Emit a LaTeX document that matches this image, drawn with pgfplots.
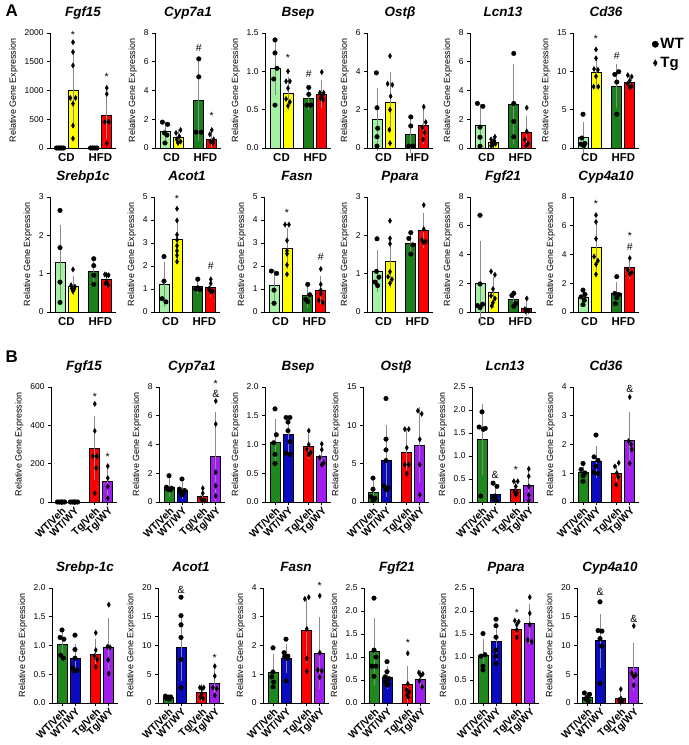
\documentclass[border=0pt]{standalone}
\usepackage{fontspec}
\setmainfont{Liberation Sans}
\usepackage{pgfplots}
\pgfplotsset{compat=1.18}

\definecolor{cdwt}{HTML}{A3F2A3}
\definecolor{cdtg}{HTML}{FFFF00}
\definecolor{hfdwt}{HTML}{1B7F1B}
\definecolor{hfdtg}{HTML}{FF0000}
\definecolor{vehwt}{HTML}{1E8A1E}
\definecolor{wywt}{HTML}{0A0ABF}
\definecolor{vehtg}{HTML}{FF0000}
\definecolor{wytg}{HTML}{A01EF0}
\definecolor{errgray}{HTML}{8A8A8A}

\pgfplotsset{
  gene/.style={
    scale only axis, width=66bp, height=115bp, anchor=south west,
    xmin=-0.77, xmax=4.31, ymin=0,
    axis x line=bottom, axis y line=left,
    axis line style={-, line width=0.8pt, black},
    every outer x axis line/.append style={-},
    every outer y axis line/.append style={-},
    tick align=outside, major tick length=3bp,
    ytick style={line width=0.8pt, black},
    yticklabel style={font=\fontsize{8.5}{9}\selectfont, text=black,
      /pgf/number format/fixed, /pgf/number format/1000 sep={}},
    /pgf/number format/assume math mode=true,
    scaled y ticks=false,
    ylabel={Relative Gene Expression},
    ylabel style={font=\fontsize{9}{10}\selectfont},
    title style={at={(0.5,1)}, anchor=base, yshift=11bp,
      font=\fontsize{13.5}{14}\selectfont\bfseries\itshape},
    clip=false,
  },
  geneA/.style={gene, xtick={0.5,3.1}, xticklabels={CD,HFD},
    xtick style={draw=none},
    xticklabel style={font=\fontsize{11.5}{12}\selectfont\bfseries, yshift=1bp}},
  geneB/.style={gene, xtick={0,1,2.6,3.6},
    xticklabels={WT/Veh,WT/WY,Tg/Veh,Tg/WY},
    xtick style={line width=0.8pt, black},
    xticklabel style={rotate=45, anchor=north east, inner sep=1pt,
      font=\fontsize{10.5}{11}\selectfont\bfseries}},
  dec/.style={yticklabel style={/pgf/number format/fixed zerofill,
      /pgf/number format/precision=1}},
  bar/.style={ybar, bar width=10bp, bar shift=0pt, draw=black,
    line width=0.8pt, fill=#1, forget plot},
  err/.style={draw=none, mark=none, forget plot,
    error bars/y dir=both, error bars/y explicit,
    error bars/error bar style={draw=errgray, line width=0.6pt, solid},
    error bars/error mark options={draw=errgray, line width=0.6pt, mark size=2.6bp}},
  wt/.style={only marks, mark=*, mark size=2.3bp, draw=black, fill=black},
  tg/.style={only marks, mark=diamond*, mark size=2.6bp, draw=black, fill=black,
    mark options={xscale=0.8}},
}
\tikzset{sig/.style={font=\fontsize{10.5}{11}\selectfont, inner sep=0pt}}

\begin{document}
\begin{tikzpicture}
\path[use as bounding box] (0,0) rectangle (689bp,-745bp);
\node[anchor=base west, font=\fontsize{17}{17}\selectfont\bfseries] at (2bp,-16bp) {A};
\node[anchor=base west, font=\fontsize{17}{17}\selectfont\bfseries] at (2bp,-362bp) {B};

% ---------------- Panel A, top row ----------------
\begin{axis}[geneA, at={(50bp,-148bp)}, ymax=2000, ytick={0,500,1000,1500,2000}, title={Fgf15}]
\addplot[bar=cdwt] coordinates {(0,6)};
\addplot[bar=cdtg] coordinates {(1,1000)};
\addplot[bar=hfdwt] coordinates {(2.6,6)};
\addplot[bar=hfdtg] coordinates {(3.6,575)};
\addplot[err] coordinates {(0,6) +- (0,3) (1,1000) +- (0,600) (2.6,6) +- (0,3) (3.6,575) +- (0,365)};
\addplot[wt] coordinates {(-0.28,0) (-0.14,0) (0,0) (0.14,0) (0.28,0) (2.35,0) (2.5,0) (2.7,0) (2.85,0)};
\addplot[tg] coordinates {(1,1840) (1,1670) (1,1435) (0.8,870) (1.2,870) (1,770) (1,390) (1,165) (3.6,1045) (3.6,940) (3.45,455) (3.75,455) (3.6,80)};
\node[sig] at (axis cs:1,1960) {*};
\node[sig] at (axis cs:3.6,1230) {*};
\end{axis}

\begin{axis}[geneA, at={(155bp,-148bp)}, ymax=8, ytick={0,2,4,6,8}, title={Cyp7a1}]
\addplot[bar=cdwt] coordinates {(0,1.13)};
\addplot[bar=cdtg] coordinates {(1,0.75)};
\addplot[bar=hfdwt] coordinates {(2.6,3.3)};
\addplot[bar=hfdtg] coordinates {(3.6,0.63)};
\addplot[err] coordinates {(0,1.13) +- (0,0.52) (1,0.75) +- (0,0.38) (2.6,3.3) +- (0,2.65) (3.6,0.63) +- (0,0.35)};
\addplot[wt] coordinates {(-0.2,1.8) (0.2,1.65) (-0.05,1.05) (0.15,0.9) (0,0.35) (2.6,6.2) (2.6,4.95) (2.4,1.1) (2.8,1.1)};
\addplot[tg] coordinates {(1.2,1.25) (0.85,1.05) (1.1,0.8) (0.9,0.6) (1.2,0.45) (1,0.35) (3.6,1.25) (3.45,0.95) (3.75,0.6) (3.5,0.45) (3.7,0.35)};
\node[sig] at (axis cs:2.6,6.95) {\#};
\node[sig] at (axis cs:3.6,2.2) {*};
\end{axis}

\begin{axis}[geneA, dec, at={(265bp,-148bp)}, ymax=1.5, ytick={0,0.5,1,1.5}, title={Bsep}]
\addplot[bar=cdwt] coordinates {(0,1.04)};
\addplot[bar=cdtg] coordinates {(1,0.71)};
\addplot[bar=hfdwt] coordinates {(2.6,0.65)};
\addplot[bar=hfdtg] coordinates {(3.6,0.70)};
\addplot[err] coordinates {(0,1.04) +- (0,0.32) (1,0.71) +- (0,0.18) (2.6,0.65) +- (0,0.12) (3.6,0.70) +- (0,0.15)};
\addplot[wt] coordinates {(0,1.41) (0,1.24) (0.15,1.04) (-0.1,0.9) (0,0.56) (2.6,0.79) (2.6,0.70) (2.45,0.56) (2.75,0.56)};
\addplot[tg] coordinates {(1,1.0) (0.85,0.87) (1.15,0.87) (1,0.78) (0.85,0.64) (1.15,0.6) (1,0.55) (3.6,0.99) (3.45,0.72) (3.75,0.72) (3.5,0.65) (3.7,0.63) (3.6,0.68)};
\node[sig] at (axis cs:1,1.17) {*};
\node[sig] at (axis cs:2.6,0.96) {\#};
\end{axis}

\begin{axis}[geneA, at={(367bp,-148bp)}, ymax=6, ytick={0,2,4,6}, title={Ostβ}]
\addplot[bar=cdwt] coordinates {(0,1.5)};
\addplot[bar=cdtg] coordinates {(1,2.4)};
\addplot[bar=hfdwt] coordinates {(2.6,0.73)};
\addplot[bar=hfdtg] coordinates {(3.6,1.17)};
\addplot[err] coordinates {(0,1.5) +- (0,1.52) (1,2.4) +- (0,1.45) (2.6,0.73) +- (0,0.83) (3.6,1.17) +- (0,0.8)};
\addplot[wt] coordinates {(-0.05,3.92) (0,2.1) (0.05,1.03) (0,0.59) (0,0.1) (2.6,1.62) (2.6,1.15) (2.45,0.1) (2.75,0.1)};
\addplot[tg] coordinates {(1,4.8) (0.82,3.35) (1.18,3.3) (1.05,2.7) (1,2.0) (0.95,0.95) (1,0.25) (3.6,2.15) (3.75,1.35) (3.5,1.07) (3.65,0.8) (3.55,0.45)};
\end{axis}

\begin{axis}[geneA, at={(470bp,-148bp)}, ymax=8, ytick={0,2,4,6,8}, title={Lcn13}]
\addplot[bar=cdwt] coordinates {(0,1.55)};
\addplot[bar=cdtg] coordinates {(1,0.42)};
\addplot[bar=hfdwt] coordinates {(2.6,3.05)};
\addplot[bar=hfdtg] coordinates {(3.6,1.1)};
\addplot[err] coordinates {(0,1.55) +- (0,1.35) (1,0.42) +- (0,0.25) (2.6,3.05) +- (0,2.58) (3.6,1.1) +- (0,0.98)};
\addplot[wt] coordinates {(-0.2,3.1) (0.22,2.9) (0,1.45) (0,0.75) (0,0.12) (2.6,6.58) (2.6,3.1) (2.6,1.85) (2.6,0.78)};
\addplot[tg] coordinates {(1.15,0.78) (0.85,0.6) (1.1,0.5) (0.9,0.38) (1.2,0.3) (1,0.2) (0.85,0.15) (3.6,2.8) (3.6,1.15) (3.45,0.6) (3.7,0.3) (3.55,0.15)};
\end{axis}

\begin{axis}[geneA, at={(573bp,-148bp)}, ymax=15, ytick={0,5,10,15}, title={Cd36},
  legend style={at={(1.15,0.99)}, anchor=north west, draw=none, fill=none,
    font=\fontsize{15}{16}\selectfont\bfseries, row sep=3bp},
  legend cell align=left, legend image post style={mark size=3.2bp}]
\addplot[bar=cdwt] coordinates {(0,1.4)};
\addplot[bar=cdtg] coordinates {(1,9.85)};
\addplot[bar=hfdwt] coordinates {(2.6,8.1)};
\addplot[bar=hfdtg] coordinates {(3.6,8.55)};
\addplot[err] coordinates {(0,1.4) +- (0,1.7) (1,9.85) +- (0,1.85) (2.6,8.1) +- (0,2.55) (3.6,8.55) +- (0,0.6)};
\addplot[wt] coordinates {(0,4.4) (-0.1,1.3) (0.15,0.6) (-0.15,0.5) (0.05,0.3) (2.45,9.6) (2.75,9.95) (2.6,8.6) (2.6,4.4)};
\addlegendentry{WT}
\addplot[tg] coordinates {(1,12.85) (1,11.7) (0.85,10.3) (1.15,10.2) (1,9.35) (0.82,8.0) (1.18,8.0) (3.45,9.5) (3.75,9.3) (3.6,8.8) (3.45,8.4) (3.75,8.1) (3.6,7.9)};
\addlegendentry{Tg}
\node[sig] at (axis cs:1,14.2) {*};
\node[sig] at (axis cs:2.6,12.05) {\#};
\end{axis}

% ---------------- Panel A, bottom row ----------------
\begin{axis}[geneA, at={(50bp,-312bp)}, ymax=3, ytick={0,1,2,3}, title={Srebp1c}]
\addplot[bar=cdwt] coordinates {(0,1.29)};
\addplot[bar=cdtg] coordinates {(1,0.68)};
\addplot[bar=hfdwt] coordinates {(2.6,1.05)};
\addplot[bar=hfdtg] coordinates {(3.6,0.84)};
\addplot[err] coordinates {(0,1.29) +- (0,0.92) (1,0.68) +- (0,0.18) (2.6,1.05) +- (0,0.22) (3.6,0.84) +- (0,0.13)};
\addplot[wt] coordinates {(0,2.65) (0,1.68) (0,0.78) (0,0.25) (2.6,1.39) (2.6,1.21) (2.6,0.96) (2.6,0.72)};
\addplot[tg] coordinates {(1,1.11) (0.85,0.7) (1.15,0.66) (0.9,0.61) (1.1,0.6) (1,0.54) (3.45,0.98) (3.6,0.96) (3.75,0.96) (3.5,0.75) (3.7,0.7) (3.6,0.79)};
\end{axis}

\begin{axis}[geneA, at={(154bp,-312bp)}, ymax=5, ytick={0,1,2,3,4,5}, title={Acot1}]
\addplot[bar=cdwt] coordinates {(0,1.2)};
\addplot[bar=cdtg] coordinates {(1,3.17)};
\addplot[bar=hfdwt] coordinates {(2.6,1.1)};
\addplot[bar=hfdtg] coordinates {(3.6,1.05)};
\addplot[err] coordinates {(0,1.2) +- (0,0.88) (1,3.17) +- (0,0.78) (2.6,1.1) +- (0,0.2) (3.6,1.05) +- (0,0.3)};
\addplot[wt] coordinates {(0,2.41) (0,1.34) (-0.15,0.58) (0.15,0.44) (2.6,1.43) (2.45,1.0) (2.75,0.98) (2.6,1.05)};
\addplot[tg] coordinates {(1,4.49) (1,3.98) (1,3.36) (1,3.14) (1,2.88) (1,2.66) (1,2.46) (1,2.19) (3.6,1.42) (3.6,1.24) (3.45,0.99) (3.75,0.9) (3.6,0.88) (3.5,1.02)};
\node[sig] at (axis cs:1,4.9) {*};
\node[sig] at (axis cs:3.6,2.02) {\#};
\end{axis}

\begin{axis}[geneA, at={(264bp,-312bp)}, ymax=5, ytick={0,1,2,3,4,5}, title={Fasn}]
\addplot[bar=cdwt] coordinates {(0,1.14)};
\addplot[bar=cdtg] coordinates {(1,2.76)};
\addplot[bar=hfdwt] coordinates {(2.6,0.73)};
\addplot[bar=hfdtg] coordinates {(3.6,0.95)};
\addplot[err] coordinates {(0,1.14) +- (0,0.57) (1,2.76) +- (0,0.79) (2.6,0.73) +- (0,0.44) (3.6,0.95) +- (0,0.51)};
\addplot[wt] coordinates {(-0.2,1.78) (0.2,1.68) (0,0.95) (0,0.38) (2.6,1.2) (2.75,0.75) (2.45,0.55) (2.6,0.45)};
\addplot[tg] coordinates {(0.85,3.8) (1.15,3.8) (1,3.11) (1,2.66) (1,2.53) (1,2.05) (1,1.64) (3.6,1.87) (3.6,1.2) (3.6,0.95) (3.45,0.51) (3.75,0.41) (3.6,0.8)};
\node[sig] at (axis cs:1,4.31) {*};
\node[sig] at (axis cs:3.6,2.41) {\#};
\end{axis}

\begin{axis}[geneA, at={(367bp,-312bp)}, ymax=3, ytick={0,1,2,3}, title={Ppara}]
\addplot[bar=cdwt] coordinates {(0,1.07)};
\addplot[bar=cdtg] coordinates {(1,1.31)};
\addplot[bar=hfdwt] coordinates {(2.6,1.8)};
\addplot[bar=hfdtg] coordinates {(3.6,2.13)};
\addplot[err] coordinates {(0,1.07) +- (0,0.47) (1,1.31) +- (0,0.61) (2.6,1.8) +- (0,0.2) (3.6,2.13) +- (0,0.39)};
\addplot[wt] coordinates {(0,1.91) (-0.05,1.06) (0.15,0.91) (-0.15,0.78) (0.05,0.69) (2.6,2.07) (2.45,1.92) (2.75,1.75) (2.6,1.51)};
\addplot[tg] coordinates {(1,2.38) (1,1.92) (1,1.78) (1,1.05) (0.85,0.92) (1.15,0.85) (1,0.75) (3.6,2.79) (3.6,2.16) (3.45,1.88) (3.75,1.84) (3.6,1.82)};
\end{axis}

\begin{axis}[geneA, at={(470bp,-312bp)}, ymax=8, ytick={0,2,4,6,8}, title={Fgf21}]
\addplot[bar=cdwt] coordinates {(0,2.0)};
\addplot[bar=cdtg] coordinates {(1,1.36)};
\addplot[bar=hfdwt] coordinates {(2.6,0.85)};
\addplot[bar=hfdtg] coordinates {(3.6,0.25)};
\addplot[err] coordinates {(0,2.0) +- (0,2.78) (1,1.36) +- (0,0.88) (2.6,0.85) +- (0,0.47) (3.6,0.25) +- (0,0.37)};
\addplot[wt] coordinates {(0,6.73) (0,1.95) (0.2,0.54) (-0.2,0.45) (0,0.3) (2.6,1.3) (2.45,1.15) (2.75,0.6) (2.6,0.4)};
\addplot[tg] coordinates {(0.85,2.82) (1.15,2.59) (1,1.6) (0.85,1.13) (1.15,0.94) (1,0.66) (0.9,0.42) (3.6,0.94) (3.45,0.2) (3.6,0.12) (3.75,0.08) (3.5,0.05)};
\end{axis}

\begin{axis}[geneA, at={(573bp,-312bp)}, ymax=8, ytick={0,2,4,6,8}, title={Cyp4a10}]
\addplot[bar=cdwt] coordinates {(0,1.05)};
\addplot[bar=cdtg] coordinates {(1,4.51)};
\addplot[bar=hfdwt] coordinates {(2.6,1.26)};
\addplot[bar=hfdtg] coordinates {(3.6,3.09)};
\addplot[err] coordinates {(0,1.05) +- (0,0.3) (1,4.51) +- (0,1.45) (2.6,1.26) +- (0,0.66) (3.6,3.09) +- (0,0.6)};
\addplot[wt] coordinates {(0,1.52) (0.15,1.22) (-0.15,1.05) (0.1,0.82) (0,0.51) (2.6,2.46) (2.45,1.29) (2.75,1.22) (2.6,0.98) (2.5,0.58)};
\addplot[tg] coordinates {(1,6.74) (1,6.27) (1,5.1) (0.85,3.86) (1.15,3.56) (1,3.32) (1,2.62) (3.6,3.75) (3.45,2.95) (3.75,2.75) (3.6,2.65)};
\node[sig] at (axis cs:1,7.53) {*};
\node[sig] at (axis cs:3.6,5.26) {*};
\node[sig] at (axis cs:3.6,4.56) {\#};
\end{axis}

% ---------------- Panel B, top row ----------------
\begin{axis}[geneB, at={(51bp,-502bp)}, ymax=600, ytick={0,200,400,600}, title={Fgf15}]
\addplot[bar=vehwt] coordinates {(0,2)};
\addplot[bar=wywt] coordinates {(1,2)};
\addplot[bar=vehtg] coordinates {(2.6,281)};
\addplot[bar=wytg] coordinates {(3.6,107)};
\addplot[err] coordinates {(0,2) +- (0,1) (1,2) +- (0,1) (2.6,281) +- (0,155) (3.6,107) +- (0,80)};
\addplot[wt] coordinates {(-0.28,0) (-0.14,0) (0,0) (0.14,0) (0.28,0) (0.72,0) (0.86,0) (1,0) (1.14,0) (1.28,0)};
\addplot[tg] coordinates {(2.6,512) (2.6,371) (2.45,239) (2.75,239) (2.7,178) (2.6,46) (3.6,187) (3.6,125) (3.6,81) (3.6,19)};
\node[sig] at (axis cs:2.6,547) {*};
\node[sig] at (axis cs:3.6,236) {*};
\end{axis}

\begin{axis}[geneB, at={(159bp,-502bp)}, ymax=8, ytick={0,2,4,6,8}, title={Cyp7a1}]
\addplot[bar=vehwt] coordinates {(0,1.01)};
\addplot[bar=wywt] coordinates {(1,0.8)};
\addplot[bar=vehtg] coordinates {(2.6,0.38)};
\addplot[bar=wytg] coordinates {(3.6,3.15)};
\addplot[err] coordinates {(0,1.01) +- (0,0.47) (1,0.8) +- (0,0.4) (2.6,0.38) +- (0,0.35) (3.6,3.15) +- (0,2.93)};
\addplot[wt] coordinates {(0,1.83) (-0.2,1.03) (0.2,0.96) (-0.1,0.89) (0.1,0.85) (1,1.6) (0.8,0.9) (1.2,0.8) (0.9,0.7) (1.1,0.6) (1,0.5)};
\addplot[tg] coordinates {(2.6,0.96) (2.6,0.61) (2.45,0.26) (2.75,0.09) (2.6,0.09) (3.6,7.02) (3.6,5.42) (3.6,2.07) (3.6,1.13) (3.6,0.42)};
\node[sig] at (axis cs:3.6,8.2) {*};
\node[sig] at (axis cs:3.6,7.5) {\&};
\end{axis}

\begin{axis}[geneB, dec, at={(265bp,-502bp)}, ymax=2, ytick={0,0.5,1,1.5,2}, title={Bsep}]
\addplot[bar=vehwt] coordinates {(0,1.04)};
\addplot[bar=wywt] coordinates {(1,1.18)};
\addplot[bar=vehtg] coordinates {(2.6,0.96)};
\addplot[bar=wytg] coordinates {(3.6,0.8)};
\addplot[err] coordinates {(0,1.04) +- (0,0.36) (1,1.18) +- (0,0.27) (2.6,0.96) +- (0,0.17) (3.6,0.8) +- (0,0.13)};
\addplot[wt] coordinates {(0,1.62) (0.1,1.17) (-0.1,1.03) (0,0.83) (0,0.67) (0.85,1.47) (1.15,1.47) (1,1.39) (1,1.24) (1.15,1.05) (0.85,0.85) (1.15,0.83)};
\addplot[tg] coordinates {(2.6,1.24) (2.6,1.0) (2.45,0.92) (2.75,0.86) (2.6,0.83) (3.6,1.01) (3.6,0.91) (3.45,0.77) (3.75,0.68) (3.6,0.65)};
\end{axis}

\begin{axis}[geneB, at={(363bp,-502bp)}, ymax=15, ytick={0,5,10,15}, title={Ostβ}]
\addplot[bar=vehwt] coordinates {(0,1.28)};
\addplot[bar=wywt] coordinates {(1,5.37)};
\addplot[bar=vehtg] coordinates {(2.6,6.42)};
\addplot[bar=wytg] coordinates {(3.6,7.39)};
\addplot[err] coordinates {(0,1.28) +- (0,1.18) (1,5.37) +- (0,4.35) (2.6,6.42) +- (0,2.73) (3.6,7.39) +- (0,4.6)};
\addplot[wt] coordinates {(0,3.12) (0,1.67) (-0.15,0.7) (0.15,0.48) (0,0.18) (1,13.5) (1,8.2) (1,6.8) (1,5.4) (0.85,2.1) (1.15,1.8) (1,1.6)};
\addplot[tg] coordinates {(2.45,9.5) (2.75,9.5) (2.6,7.08) (2.45,4.88) (2.75,4.88) (2.6,3.7) (3.45,11.9) (3.75,11.5) (3.6,8.18) (3.6,4.88) (3.6,0.92)};
\end{axis}

\begin{axis}[geneB, dec, at={(472bp,-502bp)}, ymax=2.5, ytick={0,0.5,1,1.5,2,2.5}, title={Lcn13}]
\addplot[bar=vehwt] coordinates {(0,1.36)};
\addplot[bar=wywt] coordinates {(1,0.17)};
\addplot[bar=vehtg] coordinates {(2.6,0.28)};
\addplot[bar=wytg] coordinates {(3.6,0.37)};
\addplot[err] coordinates {(0,1.36) +- (0,0.71) (1,0.17) +- (0,0.15) (2.6,0.28) +- (0,0.12) (3.6,0.37) +- (0,0.35)};
\addplot[wt] coordinates {(0,1.96) (-0.22,1.63) (0.1,1.58) (0.25,1.6) (-0.1,0.13) (0.85,0.41) (1.15,0.34) (1,0.13) (0.9,0.08) (1.1,0.03)};
\addplot[tg] coordinates {(2.45,0.45) (2.75,0.45) (2.6,0.34) (2.5,0.23) (2.7,0.2) (2.6,0.15) (3.6,0.72) (3.6,0.56) (3.6,0.34) (3.6,0.15) (3.6,0.03)};
\node[sig] at (axis cs:1,0.59) {\&};
\node[sig] at (axis cs:2.6,0.7) {*};
\end{axis}

\begin{axis}[geneB, at={(573bp,-502bp)}, ymax=4, ytick={0,1,2,3,4}, title={Cd36}]
\addplot[bar=vehwt] coordinates {(0,1.02)};
\addplot[bar=wywt] coordinates {(1,1.4)};
\addplot[bar=vehtg] coordinates {(2.6,0.99)};
\addplot[bar=wytg] coordinates {(3.6,2.15)};
\addplot[err] coordinates {(0,1.02) +- (0,0.22) (1,1.4) +- (0,0.47) (2.6,0.99) +- (0,0.22) (3.6,2.15) +- (0,0.89)};
\addplot[wt] coordinates {(0,1.34) (-0.15,1.13) (0.15,1.01) (0,0.91) (0,0.72) (1,2.33) (0.85,1.57) (1.15,1.45) (1,1.24) (0.85,1.03) (1.15,0.99)};
\addplot[tg] coordinates {(2.75,1.36) (2.45,1.24) (2.6,1.01) (2.7,0.87) (2.55,0.6) (3.6,3.65) (3.5,2.12) (3.7,2.0) (3.75,1.83) (3.6,1.34)};
\node[sig] at (axis cs:3.6,3.94) {\&};
\end{axis}

% ---------------- Panel B, bottom row ----------------
\begin{axis}[geneB, dec, at={(52bp,-703bp)}, ymax=2, ytick={0,0.5,1,1.5,2}, title={Srebp-1c}]
\addplot[bar=vehwt] coordinates {(0,1.02)};
\addplot[bar=wywt] coordinates {(1,0.78)};
\addplot[bar=vehtg] coordinates {(2.6,0.85)};
\addplot[bar=wytg] coordinates {(3.6,0.97)};
\addplot[err] coordinates {(0,1.02) +- (0,0.19) (1,0.78) +- (0,0.2) (2.6,0.85) +- (0,0.21) (3.6,0.97) +- (0,0.46)};
\addplot[wt] coordinates {(0,1.27) (-0.15,1.14) (0.15,1.11) (-0.1,0.83) (0.1,0.78) (1,1.18) (1,0.93) (1,0.78) (0.85,0.6) (1.15,0.57) (1,0.56)};
\addplot[tg] coordinates {(2.6,1.22) (2.6,0.92) (2.5,0.82) (2.7,0.76) (2.6,0.63) (3.6,1.71) (3.5,0.98) (3.7,0.97) (3.55,0.75) (3.6,0.51)};
\end{axis}

\begin{axis}[geneB, at={(158bp,-703bp)}, ymax=20, ytick={0,5,10,15,20}, title={Acot1}]
\addplot[bar=vehwt] coordinates {(0,0.95)};
\addplot[bar=wywt] coordinates {(1,9.7)};
\addplot[bar=vehtg] coordinates {(2.6,1.81)};
\addplot[bar=wytg] coordinates {(3.6,3.4)};
\addplot[err] coordinates {(0,0.95) +- (0,0.2) (1,9.7) +- (0,5.45) (2.6,1.81) +- (0,1.0) (3.6,3.4) +- (0,2.2)};
\addplot[wt] coordinates {(-0.2,1.2) (0.2,1.05) (0,0.95) (-0.1,0.8) (0.1,0.7) (1,18.4) (1,15.2) (1,13.6) (1,11.4) (1,7.6) (1,2.7)};
\addplot[tg] coordinates {(2.45,2.68) (2.75,2.68) (2.6,2.5) (2.6,1.6) (2.5,1.05) (2.7,0.75) (3.6,6.4) (3.6,4.7) (3.45,2.7) (3.75,2.5) (3.6,1.3)};
\node[sig] at (axis cs:1,19.7) {\&};
\node[sig] at (axis cs:3.6,7.9) {*};
\end{axis}

\begin{axis}[geneB, at={(263bp,-703bp)}, ymax=4, ytick={0,1,2,3,4}, title={Fasn}]
\addplot[bar=vehwt] coordinates {(0,1.08)};
\addplot[bar=wywt] coordinates {(1,1.55)};
\addplot[bar=vehtg] coordinates {(2.6,2.51)};
\addplot[bar=wytg] coordinates {(3.6,1.73)};
\addplot[err] coordinates {(0,1.08) +- (0,0.53) (1,1.55) +- (0,0.41) (2.6,2.51) +- (0,1.02) (3.6,1.73) +- (0,1.16)};
\addplot[wt] coordinates {(0,1.92) (0,1.08) (-0.1,0.91) (0.05,0.73) (0,0.56) (1,2.22) (0.85,1.75) (1.15,1.63) (0.9,1.61) (1.1,1.55) (1,0.77)};
\addplot[tg] coordinates {(2.45,3.62) (2.75,3.68) (2.6,2.58) (2.6,1.55) (2.6,1.1) (3.6,3.73) (3.6,1.75) (3.45,1.15) (3.75,1.12) (3.6,0.9)};
\node[sig] at (axis cs:3.6,4.06) {*};
\end{axis}

\begin{axis}[geneB, dec, at={(364bp,-703bp)}, ymax=2.5, ytick={0,0.5,1,1.5,2,2.5}, title={Fgf21}]
\addplot[bar=vehwt] coordinates {(0,1.12)};
\addplot[bar=wywt] coordinates {(1,0.56)};
\addplot[bar=vehtg] coordinates {(2.6,0.4)};
\addplot[bar=wytg] coordinates {(3.6,0.52)};
\addplot[err] coordinates {(0,1.12) +- (0,0.68) (1,0.56) +- (0,0.19) (2.6,0.4) +- (0,0.35) (3.6,0.52) +- (0,0.14)};
\addplot[wt] coordinates {(0,2.28) (0,1.15) (0.15,1.0) (-0.15,0.8) (0.15,0.8) (0,0.58) (1,0.9) (1,0.68) (0.85,0.57) (1.15,0.53) (0.9,0.46) (1.1,0.41) (1,0.39)};
\addplot[tg] coordinates {(2.6,1.08) (2.6,0.42) (2.5,0.29) (2.7,0.24) (2.55,0.17) (2.65,0.13) (3.45,0.66) (3.75,0.63) (3.6,0.6) (3.5,0.48) (3.7,0.35)};
\node[sig] at (axis cs:2.6,1.3) {*};
\end{axis}

\begin{axis}[geneB, dec, at={(473bp,-703bp)}, ymax=2.5, ytick={0,0.5,1,1.5,2,2.5}, title={Ppara}]
\addplot[bar=vehwt] coordinates {(0,1.04)};
\addplot[bar=wywt] coordinates {(1,1.33)};
\addplot[bar=vehtg] coordinates {(2.6,1.61)};
\addplot[bar=wytg] coordinates {(3.6,1.72)};
\addplot[err] coordinates {(0,1.04) +- (0,0.29) (1,1.33) +- (0,0.34) (2.6,1.61) +- (0,0.1) (3.6,1.72) +- (0,0.38)};
\addplot[wt] coordinates {(0,1.51) (0.15,1.05) (-0.15,1.02) (0,0.8) (0,0.72) (1,1.82) (1,1.68) (1,1.43) (1,1.15) (1,1.02) (1,0.86)};
\addplot[tg] coordinates {(2.45,1.79) (2.75,1.77) (2.6,1.7) (2.6,1.59) (2.6,1.43) (3.6,2.3) (3.6,1.95) (3.6,1.7) (3.45,1.37) (3.75,1.33)};
\node[sig] at (axis cs:2.6,1.95) {*};
\end{axis}

\begin{axis}[geneB, at={(577bp,-703bp)}, ymax=20, ytick={0,5,10,15,20}, title={Cyp4a10}]
\addplot[bar=vehwt] coordinates {(0,0.95)};
\addplot[bar=wywt] coordinates {(1,10.83)};
\addplot[bar=vehtg] coordinates {(2.6,0.77)};
\addplot[bar=wytg] coordinates {(3.6,6.27)};
\addplot[err] coordinates {(0,0.95) +- (0,0.5) (1,10.83) +- (0,4.26) (2.6,0.77) +- (0,0.89) (3.6,6.27) +- (0,3.8)};
\addplot[wt] coordinates {(-0.2,1.75) (0.2,1.5) (0,1.0) (-0.1,0.7) (0.1,0.4) (1,17.6) (0.85,12.6) (1.15,12.5) (1,11.2) (1.1,9.9) (1,3.4)};
\addplot[tg] coordinates {(2.6,2.4) (2.6,0.8) (2.45,0.5) (2.75,0.4) (2.6,0.2) (3.6,13.4) (3.45,5.2) (3.75,4.9) (3.6,4.6) (3.6,3.1)};
\node[sig] at (axis cs:1,19.3) {\&};
\node[sig] at (axis cs:3.6,14.7) {\&};
\end{axis}
\end{tikzpicture}
\end{document}
